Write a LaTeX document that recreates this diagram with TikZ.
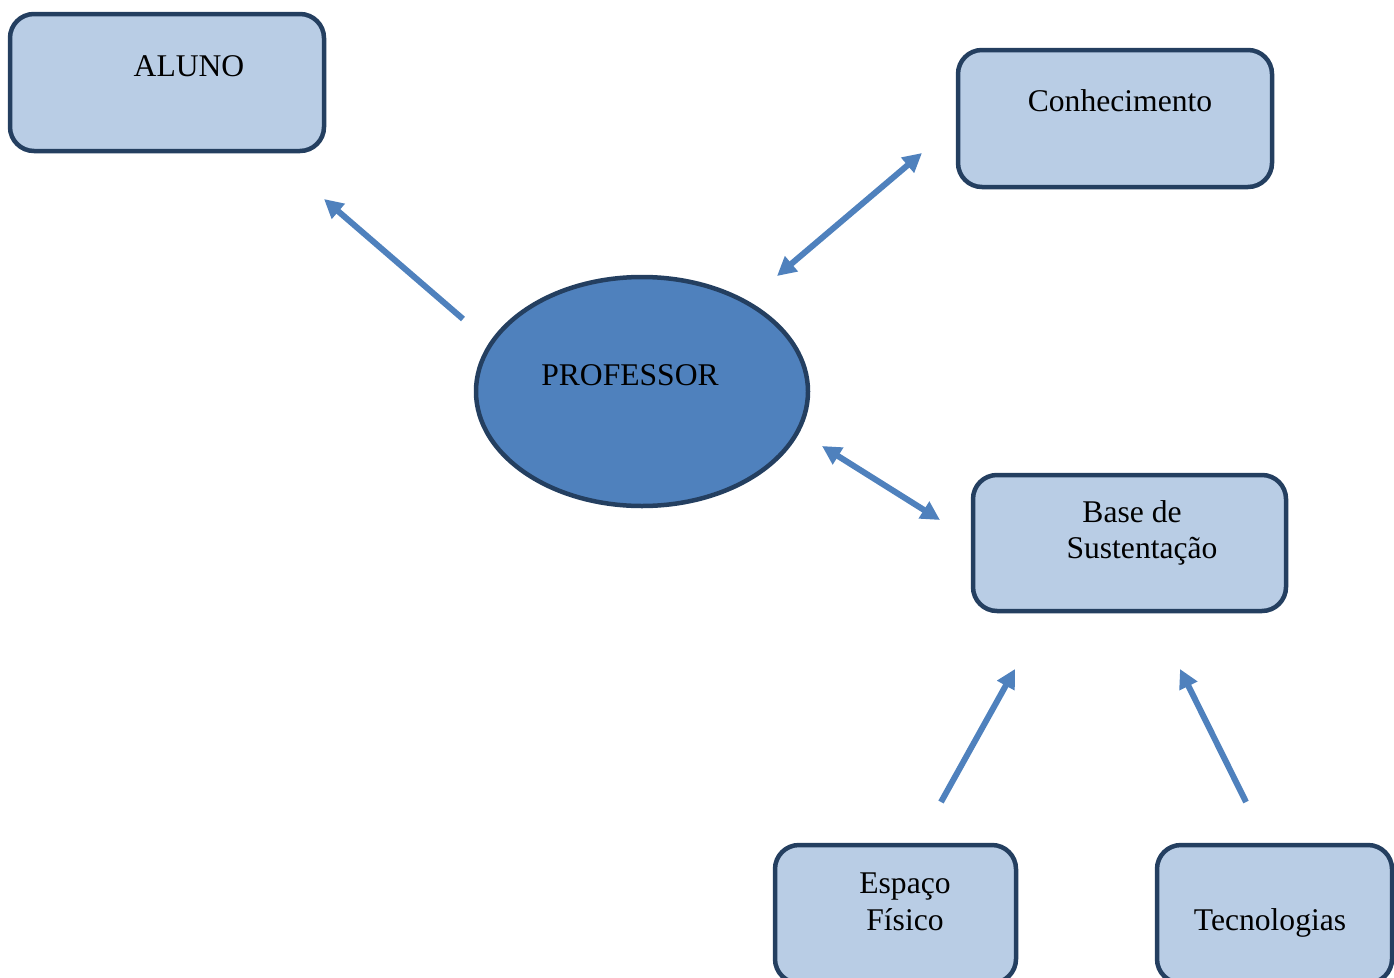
\documentclass[tikz,border=0pt]{standalone}
\usepackage{fontspec}
\setmainfont{Liberation Serif}
\usetikzlibrary{arrows.meta,shapes.geometric}
\definecolor{boxfill}{HTML}{B9CDE5}
\definecolor{boxline}{HTML}{243F60}
\definecolor{ellfill}{HTML}{4F81BD}
\definecolor{arrcol}{HTML}{4F81BD}
\tikzset{
  box/.style={draw=boxline, fill=boxfill, line width=4.5pt, rounded corners=24pt, inner sep=0pt},
  lbl/.style={anchor=base, inner sep=0pt, font=\fontsize{31.6}{36}\selectfont},
  conn/.style={draw=arrcol, line width=6pt, -{Triangle[length=19pt,width=19pt]}},
  conn2/.style={draw=arrcol, line width=6pt, {Triangle[length=19pt,width=19pt]}-{Triangle[length=19pt,width=19pt]}},
}
\begin{document}
\begin{tikzpicture}[x=1pt,y=-1pt]
\useasboundingbox (0,0) rectangle (1394,977);
\clip (0,0) rectangle (1394,977);
% boxes
\node[box, minimum width=314pt, minimum height=137pt] (aluno) at (167,82.5) {};
\node[box, minimum width=314pt, minimum height=137pt] (conh) at (1115,118.5) {};
\node[box, minimum width=313pt, minimum height=136pt] (base) at (1129.5,543) {};
\node[box, minimum width=241pt, minimum height=138pt] (esp) at (895.5,914) {};
\node[box, minimum width=235pt, minimum height=138pt] (tec) at (1274.5,914) {};
\node[draw=boxline, fill=ellfill, line width=4.5pt, ellipse, minimum width=332pt, minimum height=229pt, inner sep=0pt] (prof) at (642,391.5) {};
% texts
\node[lbl] (taluno) at (189,76) {ALUNO};
\node[lbl] (tconh) at (1120,111) {Conhecimento};
\node[lbl] (tprof) at (630,385) {PROFESSOR};
\node[lbl] (tbase1) at (1132,522) {Base de};
\node[lbl] (tbase2) at (1142,558) {Sustentação};
\node[lbl] (tesp1) at (905,893) {Espaço};
\node[lbl] (tesp2) at (905,930) {Físico};
\node[lbl] (ttec) at (1270,930) {Tecnologias};
% arrow endpoints
\coordinate (a1s) at (463,319);
\coordinate (a1e) at (324,199);
\coordinate (a2s) at (777,276);
\coordinate (a2e) at (922,153);
\coordinate (a3s) at (822,446);
\coordinate (a3e) at (940,520);
\coordinate (a4s) at (941,802);
\coordinate (a4e) at (1015,669);
\coordinate (a5s) at (1246,802);
\coordinate (a5e) at (1180,669);
\draw[conn] (a1s) -- (a1e);
\draw[conn2] (a2s) -- (a2e);
\draw[conn2] (a3s) -- (a3e);
\draw[conn] (a4s) -- (a4e);
\draw[conn] (a5s) -- (a5e);
\end{tikzpicture}
\end{document}
